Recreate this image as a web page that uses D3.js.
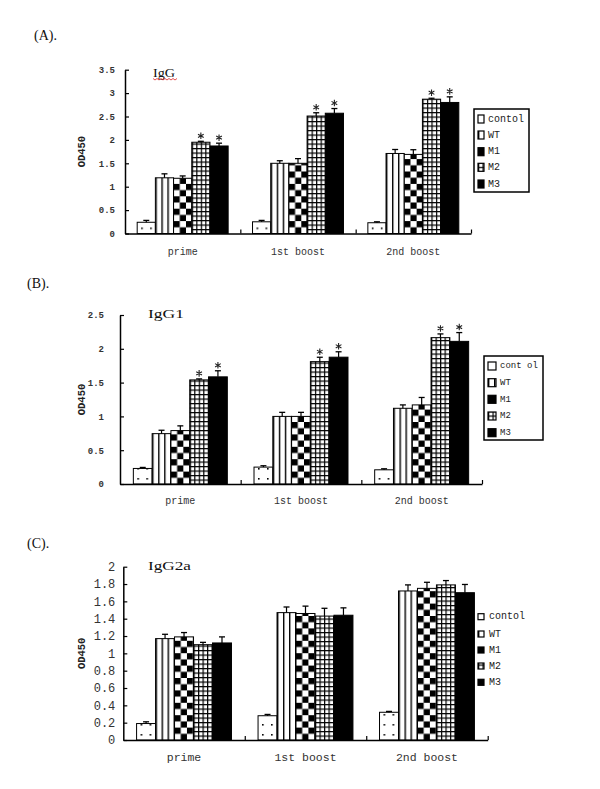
<!DOCTYPE html>
<html><head><meta charset="utf-8">
<script src="https://cdn.jsdelivr.net/npm/d3@7"></script>
<style>body{margin:0;background:#fff}svg{display:block}</style>
</head><body>
<script>
// ---------------- DATA ----------------
const categories = ["prime", "1st boost", "2nd boost"];
const seriesA = ["contol", "WT", "M1", "M2", "M3"];
const seriesB = ["cont ol", "WT", "M1", "M2", "M3"];
const seriesC = ["contol", "WT", "M1", "M2", "M3"];

// rows = series (control, WT, M1, M2, M3), columns = categories
const igGMeans = [
  [0.24, 0.25, 0.23],
  [1.19, 1.50, 1.71],
  [1.18, 1.50, 1.69],
  [1.95, 2.51, 2.87],
  [1.87, 2.57, 2.80]
];
const igGErrors = [
  [0.04, 0.03, 0.02],
  [0.085, 0.055, 0.085],
  [0.05, 0.10, 0.10],
  [0.02, 0.07, 0.02],
  [0.06, 0.10, 0.12]
];
const igG1Means = [
  [0.23, 0.25, 0.21],
  [0.745, 1.00, 1.12],
  [0.79, 1.00, 1.17],
  [1.54, 1.81, 2.165],
  [1.585, 1.876, 2.11]
];
const igG1Errors = [
  [0.015, 0.02, 0.015],
  [0.05, 0.06, 0.05],
  [0.07, 0.06, 0.11],
  [0.015, 0.065, 0.055],
  [0.09, 0.08, 0.13]
];
const igG2aMeans = [
  [0.19, 0.28, 0.32],
  [1.17, 1.47, 1.72],
  [1.19, 1.46, 1.75],
  [1.10, 1.43, 1.79],
  [1.12, 1.44, 1.70]
];
const igG2aErrors = [
  [0.02, 0.015, 0.01],
  [0.05, 0.065, 0.07],
  [0.05, 0.085, 0.07],
  [0.027, 0.09, 0.05],
  [0.07, 0.085, 0.095]
];
const starredA = ["M2", "M3"];
const starredB = ["M2", "M3"];
const starredC = [];

const ticksA = [0, 0.5, 1, 1.5, 2, 2.5, 3, 3.5];
const ticksB = [0, 0.5, 1, 1.5, 2, 2.5];
const ticksC = [0, 0.2, 0.4, 0.6, 0.8, 1, 1.2, 1.4, 1.6, 1.8, 2];
const tickLabelsA = ["0", "0.5", "1", "1.5", "2", "2.5", "3", "3.5"];
const tickLabelsB = ["0", "0.5", "1", "1.5", "2", "2.5"];
const tickLabelsC = ["0", "0.2", "0.4", "0.6", "0.8", "1", "1.2", "1.4", "1.6", "1.8", "2"];

// ---------------- DRAW ----------------
const svg = d3.select("body").append("svg").attr("width", 600).attr("height", 789);
const defs = svg.append("defs");
function pat(id, w, h, draw) {
  const p = defs.append("pattern").attr("id", id).attr("patternUnits", "userSpaceOnUse")
    .attr("width", w).attr("height", h);
  p.append("rect").attr("width", w).attr("height", h).attr("fill", "#fff");
  draw(p);
}
pat("pDots", 9, 10, p => {
  p.append("rect").attr("x", 4).attr("y", 4).attr("width", 1.6).attr("height", 1.6).attr("fill", "#000");
});
pat("pStripe", 6, 6, p => {
  p.append("rect").attr("x", 0).attr("y", 0).attr("width", 1.4).attr("height", 6).attr("fill", "#000");
});
pat("pCheck", 12.4, 12.4, p => {
  p.append("rect").attr("x", 0).attr("y", 0).attr("width", 6.2).attr("height", 6.2).attr("fill", "#000");
  p.append("rect").attr("x", 6.2).attr("y", 6.2).attr("width", 6.2).attr("height", 6.2).attr("fill", "#000");
});
pat("pGrid", 4.5, 4.5, p => {
  p.append("rect").attr("x", 0).attr("y", 0).attr("width", 1.2).attr("height", 4.5).attr("fill", "#000");
  p.append("rect").attr("x", 0).attr("y", 0).attr("width", 4.5).attr("height", 1.2).attr("fill", "#000");
});
const fills = ["url(#pDots)", "url(#pStripe)", "url(#pCheck)", "url(#pGrid)", "#000"];
const legendFills = ["#fff", "url(#pStripe)", "#000", "url(#pGrid)", "#000"];

const mono = "'Liberation Mono', 'DejaVu Sans Mono', monospace";
const serif = "'Liberation Serif', 'Times New Roman', serif";

const panels = [
  {
    tag: "(A).", tagPos: [34, 40], title: "IgG", titlePos: [153, 77], titleLen: 22, wavy: true,
    series: seriesA, means: igGMeans, errs: igGErrors, starred: starredA,
    ticks: ticksA, tickLabels: tickLabelsA, tickFont: 9, tickWeight: "bold", tickPad: 10,
    x0: 125, x1: 471, y0: 233.5, y1: 69.7, yMax: 3.5, po: 0.67, catY: 252, catFont: 10,
    legend: { box: [474, 109, 55, 83], sx: 478, tx: 488, ys: [119, 135, 151.7, 167.3, 184], sw: 6, sh: 8, font: 10 }
  },
  {
    tag: "(B).", tagPos: [27, 288], title: "IgG1", titlePos: [148, 318], titleLen: 36, wavy: false,
    series: seriesB, means: igG1Means, errs: igG1Errors, starred: starredB,
    ticks: ticksB, tickLabels: tickLabelsB, tickFont: 9, tickWeight: "bold", tickPad: 16,
    x0: 120, x1: 482, y0: 484, y1: 315, yMax: 2.5, po: 0.71, catY: 501, catFont: 10,
    legend: { box: [484, 356, 59, 84], sx: 488, tx: 500, ys: [366, 382.7, 399.3, 416, 432.7], sw: 8, sh: 8, font: 9 }
  },
  {
    tag: "(C).", tagPos: [27, 548], title: "IgG2a", titlePos: [148, 570], titleLen: 43, wavy: false,
    series: seriesC, means: igG2aMeans, errs: igG2aErrors, starred: starredC,
    ticks: ticksC, tickLabels: tickLabelsC, tickFont: 12, tickWeight: "normal", tickPad: 8,
    x0: 123.3, x1: 487.7, y0: 740, y1: 566.7, yMax: 2, po: 0.7, catY: 758, catFont: 11.5,
    legend: { box: null, sx: 478, tx: 489, ys: [616.7, 634, 650, 666, 682.3], sw: 6, sh: 6, font: 10 }
  }
];

panels.forEach(P => {
  const g = svg.append("g");
  const y = d3.scaleLinear().domain([0, P.yMax]).range([P.y0, P.y1]);
  const xCat = d3.scaleBand().domain(categories).range([P.x0, P.x1]).padding(0);
  const xSer = d3.scaleBand().domain(P.series).range([0, xCat.bandwidth()]).paddingInner(0).paddingOuter(P.po);
  const bw = xSer.bandwidth();

  // panel tag & title
  g.append("text").attr("x", P.tagPos[0]).attr("y", P.tagPos[1]).attr("font-family", serif)
    .attr("font-size", 14).attr("fill", "#111").text(P.tag);
  g.append("text").attr("x", P.titlePos[0]).attr("y", P.titlePos[1]).attr("font-family", serif)
    .attr("font-size", 13.5).attr("fill", "#111").attr("textLength", P.titleLen)
    .attr("lengthAdjust", "spacingAndGlyphs").text(P.title);
  if (P.wavy) {
    let d = "M" + P.titlePos[0] + "," + (P.titlePos[1] + 1.5);
    for (let i = 1; i <= 12; i++) d += "L" + (P.titlePos[0] + i * 2) + "," + (P.titlePos[1] + (i % 2 ? 3 : 1.5));
    g.append("path").attr("d", d).attr("fill", "none").attr("stroke", "#d22").attr("stroke-width", 0.8);
  }

  // bars
  P.series.forEach((s, si) => {
    categories.forEach((c, ci) => {
      const v = P.means[si][ci], e = P.errs[si][ci];
      const bx = xCat(c) + xSer(s);
      const bg = g.append("g").attr("transform", `translate(${bx},${P.y0})`);
      bg.append("rect").attr("x", 0).attr("y", y(v) - P.y0).attr("width", bw)
        .attr("height", P.y0 - y(v)).attr("fill", fills[si]).attr("stroke", "#000").attr("stroke-width", 1);
      const cx = bx + bw / 2;
      g.append("line").attr("x1", cx).attr("x2", cx).attr("y1", y(v)).attr("y2", y(v + e))
        .attr("stroke", "#000").attr("stroke-width", 1.2);
      g.append("line").attr("x1", cx - 3).attr("x2", cx + 3).attr("y1", y(v + e)).attr("y2", y(v + e))
        .attr("stroke", "#000").attr("stroke-width", 1.3);
      if (P.starred.includes(s)) {
        g.append("path").attr("d", d3.symbol(d3.symbolAsterisk, 30)())
          .attr("transform", `translate(${cx},${y(v + e) - 5.5})`)
          .attr("fill", "none").attr("stroke", "#222").attr("stroke-width", 1.1);
      }
    });
  });

  // y axis
  const yAxis = g.append("g").attr("transform", `translate(${P.x0},0)`)
    .call(d3.axisLeft(y).tickValues(P.ticks).tickFormat((d, i) => P.tickLabels[i])
      .tickSizeInner(-4).tickSizeOuter(0).tickPadding(P.tickPad));
  yAxis.select(".domain").attr("stroke", "#000").attr("stroke-width", 1.5);
  yAxis.selectAll(".tick line").attr("stroke", "#000").attr("stroke-width", 1.2);
  yAxis.selectAll(".tick text").attr("font-family", mono).attr("font-size", P.tickFont)
    .attr("font-weight", P.tickWeight).attr("fill", "#333");

  // x axis with boundary ticks
  const xb = d3.scaleLinear().domain([0, categories.length]).range([P.x0, P.x1]);
  const xAxis = g.append("g").attr("transform", `translate(0,${P.y0})`)
    .call(d3.axisBottom(xb).tickValues([1, 2, 3]).tickFormat(() => "").tickSizeInner(-4).tickSizeOuter(0));
  xAxis.select(".domain").attr("stroke", "#000").attr("stroke-width", 1.5);
  xAxis.selectAll(".tick line").attr("stroke", "#000").attr("stroke-width", 1.2);

  // category labels
  categories.forEach(c => {
    g.append("text").attr("x", xCat(c) + xCat.bandwidth() / 2).attr("y", P.catY)
      .attr("text-anchor", "middle").attr("dominant-baseline", "middle")
      .attr("font-family", mono).attr("font-size", P.catFont).attr("fill", "#333").text(c);
  });

  // y label
  g.append("text").attr("transform", `translate(82,${(P.y0 + P.y1) / 2}) rotate(-90)`)
    .attr("text-anchor", "middle").attr("dominant-baseline", "middle")
    .attr("font-family", mono).attr("font-weight", "bold").attr("font-size", 10.5).attr("fill", "#222").text("OD450");

  // legend
  const L = P.legend;
  if (L.box) {
    g.append("rect").attr("x", L.box[0]).attr("y", L.box[1]).attr("width", L.box[2]).attr("height", L.box[3])
      .attr("fill", "#fff").attr("stroke", "#000").attr("stroke-width", 1.5);
  }
  P.series.forEach((s, si) => {
    const lg = g.append("g").attr("transform", `translate(${L.sx},${L.ys[si] + L.sh / 2})`);
    lg.append("rect").attr("x", 0).attr("y", -L.sh).attr("width", L.sw).attr("height", L.sh)
      .attr("fill", legendFills[si]).attr("stroke", "#000").attr("stroke-width", 1.2);
    g.append("text").attr("x", L.tx).attr("y", L.ys[si]).attr("dominant-baseline", "middle")
      .attr("font-family", mono).attr("font-size", L.font).attr("fill", "#222").text(s);
  });
});
</script>
</body></html>
